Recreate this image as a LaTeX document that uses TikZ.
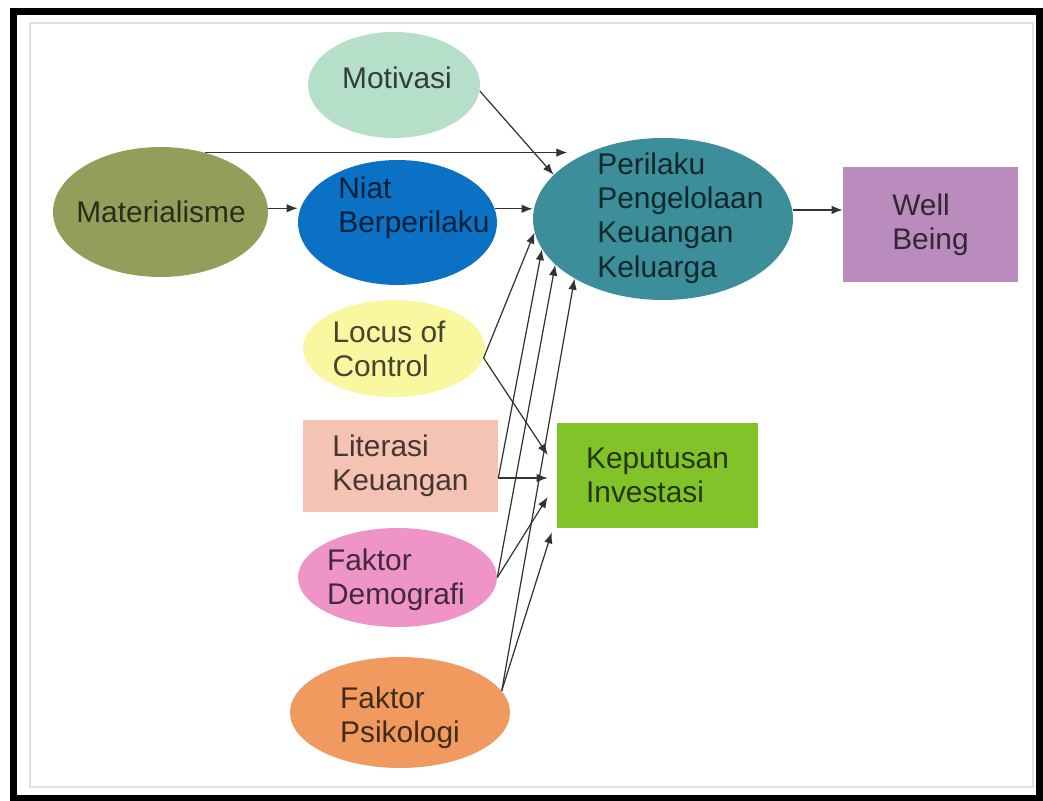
\documentclass[tikz,border=0pt]{standalone}
\usepackage{fontspec}
\setmainfont{Liberation Sans}
\usetikzlibrary{arrows.meta, shapes.geometric, positioning}

\definecolor{motivasi}{HTML}{B5DFC9}
\definecolor{materialisme}{HTML}{929F5B}
\definecolor{niat}{HTML}{0B71C4}
\definecolor{perilaku}{HTML}{3B8E9A}
\definecolor{wellbeing}{HTML}{B98CBD}
\definecolor{locus}{HTML}{F9F8A0}
\definecolor{literasi}{HTML}{F4C3B3}
\definecolor{keputusan}{HTML}{82C32A}
\definecolor{demografi}{HTML}{EF94C7}
\definecolor{psikologi}{HTML}{F09A5F}

\tikzset{
    oval/.style={ellipse, fill=#1, draw=none, inner sep=0pt},
    txt/.style={text=#1!28!black, align=left, inner sep=0pt, font=\fontsize{17}{19.5}\selectfont},
    block/.style={rectangle, fill=#1, draw=none, text=#1!28!black, align=left, font=\fontsize{17}{19.5}\selectfont},
    link/.style={draw=black!80, line width=0.7pt, -{Latex[length=0.22cm, width=0.17cm]}}
}

\begin{document}
\begin{tikzpicture}[x=0.02cm, y=-0.02cm]
                    \useasboundingbox (0,0) rectangle (1043,800);
                    \draw[line width=0.14cm] (13.5,11.5) rectangle (1039.5,798);
                    \draw[black!12, line width=0.04cm] (30,23) rectangle (1033,787);

                    \node[oval=motivasi, minimum width=3.44cm, minimum height=2.12cm] (mot) at (394,85) {};
                    \node[txt=motivasi] (mot-txt) at (397,78) {Motivasi};
                    \node[oval=materialisme, minimum width=4.3cm, minimum height=2.6cm] (mat) at (160.5,212) {};
                    \node[txt=materialisme] (mat-txt) at (161,212) {Materialisme};
                    \node[oval=niat, minimum width=3.98cm, minimum height=2.5cm] (niat) at (397.5,222.5) {};
                    \node[txt=niat, anchor=west] (niat-txt) at (338,208) {Niat\\Berperilaku};
                    \node[oval=perilaku, minimum width=5.2cm, minimum height=3.24cm] (perilaku) at (663,219) {};
                    \node[txt=perilaku, anchor=west] (perilaku-txt) at (597,218) {Perilaku\\Pengelolaan\\Keuangan\\Keluarga};
                    \node[block=wellbeing, minimum width=3.5cm, minimum height=2.3cm] (well) at (930.5,224.5) {Well\\Being};

                    \node[oval=locus, minimum width=3.64cm, minimum height=1.94cm] (locus) at (394,348.5) {};
                    \node[txt=locus] (locus-txt) at (389,349) {Locus of\\Control};
                    \node[block=literasi, minimum width=3.9cm, minimum height=1.84cm] (lit) at (400.5,466) {Literasi\\Keuangan};
                    \node[block=keputusan, minimum width=4.02cm, minimum height=2.1cm] (kep) at (657.5,475.5) {Keputusan\\Investasi};
                    \node[oval=demografi, minimum width=3.98cm, minimum height=1.98cm] (demo) at (397.5,577.5) {};
                    \node[txt=demografi] (demo-txt) at (396,580) {Faktor\\Demografi};
                    \node[oval=psikologi, minimum width=4.4cm, minimum height=2.22cm] (psi) at (400,712.5) {};
                    \node[txt=psikologi] (psi-txt) at (400,718) {Faktor\\Psikologi};

                    \coordinate (lit-out) at ([yshift=-0.24cm]lit.east);
                    \coordinate (kep-in1) at ([xshift=-0.18cm, yshift=0.41cm]kep.west);
                    \coordinate (kep-in2) at (kep-in1 |- lit-out);
                    \coordinate (kep-in3) at ([xshift=-0.18cm, yshift=-0.43cm]kep.west);
                    \coordinate (kep-in4) at ([xshift=-0.1cm, yshift=-0.08cm]kep.south west);

                    \draw[link] (mot.356) -- (perilaku.158);
                    \draw[link] (mat.53) -- (mat.53 -| perilaku.150);
                    \draw[link] (mat.2) -- (mat.2 -| niat.west);
                    \draw[link] (niat.8) -- (niat.8 -| perilaku.west);
                    \draw[link] (perilaku.4) -- (perilaku.4 -| well.west);

                    \foreach \src/\ang in {locus.354/186, lit-out/194, demo.east/203, psi.12/214} {
                        \draw[link] (\src) -- (perilaku.\ang);
                    }
                    \foreach \src/\dst in {locus.354/kep-in1, lit-out/kep-in2, demo.east/kep-in3, psi.12/kep-in4} {
                        \draw[link] (\src) -- (\dst);
                    }
                \end{tikzpicture}
\end{document}
